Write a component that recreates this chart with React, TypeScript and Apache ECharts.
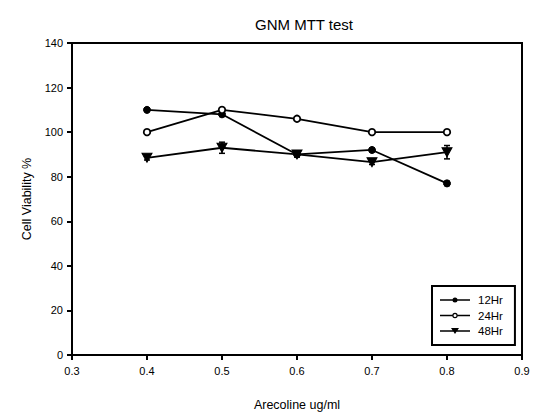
import React, { useEffect, useRef } from "react";
import * as echarts from "echarts";

const concentrations = [0.4, 0.5, 0.6, 0.7, 0.8];
const hr12 = [110, 108, 90, 92, 77];
const hr24 = [100, 110, 106, 100, 100];
const hr48 = [88.5, 93, 90, 86.5, 91];
const hr12Err = [0.8, 1, 1, 0.8, 1];
const hr24Err = [0.8, 0.8, 0.6, 0.6, 0.8];
const hr48Err = [1, 2.5, 1.2, 1, 3];
const yTicks = [0, 20, 40, 60, 80, 100, 120, 140];
const xTicks = [0.3, 0.4, 0.5, 0.6, 0.7, 0.8, 0.9];
const seriesNames = ["12Hr", "24Hr", "48Hr"];

const FONT = "Liberation Sans, Arial, sans-serif";

// legend icons: line with a marker, in a 30x8 box
const BOX = "M0 0 L0 0 M30 8 L30 8 ";
const ICON_FILLED =
  "path://" + BOX + "M0 3.25 H30 V4.75 H0 Z M12.5 4 A2.5 2.5 0 1 1 17.5 4 A2.5 2.5 0 1 1 12.5 4 Z";
const ICON_OPEN =
  "path://" +
  BOX +
  "M0 3.25 H12.3 V4.75 H0 Z M17.7 3.25 H30 V4.75 H17.7 Z " +
  "M12.3 4 A2.7 2.7 0 1 1 17.7 4 A2.7 2.7 0 1 1 12.3 4 Z " +
  "M13.5 4 A1.5 1.5 0 1 0 16.5 4 A1.5 1.5 0 1 0 13.5 4 Z";
const ICON_TRI = "path://" + BOX + "M0 3.25 H30 V4.75 H0 Z M11 1 H19 L15 7 Z";
const legendIcons = [ICON_FILLED, ICON_OPEN, ICON_TRI];

function errorSeries(name: string, vals: number[], errs: number[]) {
  return {
    type: "custom",
    name: name + "-err",
    silent: true,
    z: 1,
    data: concentrations.map((c, i) => [c, vals[i] - errs[i], vals[i] + errs[i]]),
    renderItem: (params: any, api: any) => {
      const x = api.value(0);
      const lo = api.coord([x, api.value(1)]);
      const hi = api.coord([x, api.value(2)]);
      const w = 3;
      const style = { stroke: "#000", lineWidth: 1.5 };
      return {
        type: "group",
        children: [
          { type: "line", shape: { x1: lo[0], y1: lo[1], x2: hi[0], y2: hi[1] }, style },
          { type: "line", shape: { x1: lo[0] - w, y1: lo[1], x2: lo[0] + w, y2: lo[1] }, style },
          { type: "line", shape: { x1: hi[0] - w, y1: hi[1], x2: hi[0] + w, y2: hi[1] }, style },
        ],
      };
    },
  };
}

export default function App() {
  const ref = useRef<HTMLDivElement>(null);
  useEffect(() => {
    const chart = echarts.init(ref.current!, null, { renderer: "svg" });
    const lineBase = {
      type: "line",
      z: 3,
      lineStyle: { color: "#000", width: 1.8 },
      emphasis: { disabled: true },
    };
    chart.setOption({
      animation: false,
      backgroundColor: "#fff",
      title: {
        text: "GNM MTT test",
        left: 299,
        textAlign: "center",
        top: 12,
        textStyle: { fontFamily: FONT, fontSize: 15, fontWeight: "normal", color: "#000" },
      },
      grid: {
        left: 72,
        top: 43,
        right: 17,
        bottom: 60,
        show: true,
        borderColor: "#000",
        borderWidth: 2,
        backgroundColor: "transparent",
      },
      legend: {
        orient: "vertical",
        left: 432,
        top: 286,
        data: seriesNames.map((n, i) => ({
          name: n,
          icon: legendIcons[i],
          itemStyle: { color: "#000", borderWidth: 0 },
        })),
        itemWidth: 30,
        itemHeight: 8,
        itemGap: 3.5,
        padding: [8, 12, 8, 8],
        borderColor: "#000",
        borderWidth: 2,
        textStyle: { fontFamily: FONT, fontSize: 11.5, color: "#000", padding: [0, 0, 0, 3] },
      },
      xAxis: {
        type: "value",
        min: 0.3,
        max: 0.9,
        interval: 0.1,
        name: "Arecoline ug/ml",
        nameLocation: "middle",
        nameGap: 43,
        nameTextStyle: { fontFamily: FONT, fontSize: 12.5, color: "#000" },
        axisLine: { lineStyle: { color: "#000", width: 2 } },
        axisTick: { show: true, length: 5, lineStyle: { color: "#000", width: 2 } },
        axisLabel: {
          fontFamily: FONT,
          fontSize: 11,
          color: "#000",
          margin: 10,
          formatter: (v: number) => {
            const t = xTicks.find((k) => Math.abs(k - v) < 1e-6);
            return t !== undefined ? t.toFixed(1) : "";
          },
        },
        splitLine: { show: false },
      },
      yAxis: {
        type: "value",
        min: 0,
        max: 140,
        interval: 20,
        name: "Cell Viability %",
        nameLocation: "middle",
        nameGap: 36,
        nameTextStyle: { fontFamily: FONT, fontSize: 12.5, color: "#000" },
        axisLine: { lineStyle: { color: "#000", width: 2 } },
        axisTick: { show: true, length: 5, lineStyle: { color: "#000", width: 2 } },
        axisLabel: {
          fontFamily: FONT,
          fontSize: 11,
          color: "#000",
          margin: 9,
          formatter: (v: number) => (yTicks.includes(v) ? String(v) : ""),
        },
        splitLine: { show: false },
      },
      series: [
        errorSeries("12Hr", hr12, hr12Err),
        errorSeries("24Hr", hr24, hr24Err),
        errorSeries("48Hr", hr48, hr48Err),
        {
          ...lineBase,
          name: "12Hr",
          data: concentrations.map((c, i) => [c, hr12[i]]),
          symbol: "circle",
          symbolSize: 7,
          itemStyle: { color: "#000", borderColor: "#000", borderWidth: 1 },
        },
        {
          ...lineBase,
          name: "24Hr",
          data: concentrations.map((c, i) => [c, hr24[i]]),
          symbol: "circle",
          symbolSize: 6.5,
          showAllSymbol: true,
          itemStyle: { color: "#fff", borderColor: "#000", borderWidth: 1.8 },
        },
        {
          ...lineBase,
          name: "48Hr",
          data: concentrations.map((c, i) => [c, hr48[i]]),
          symbol: "triangle",
          symbolRotate: 180,
          symbolSize: [10, 9],
          itemStyle: { color: "#000", borderColor: "#000", borderWidth: 1 },
        },
      ],
    });
    return () => chart.dispose();
  }, []);
  return <div ref={ref} style={{ width: 539, height: 416, position: "absolute", left: 0, top: 0 }} />;
}
